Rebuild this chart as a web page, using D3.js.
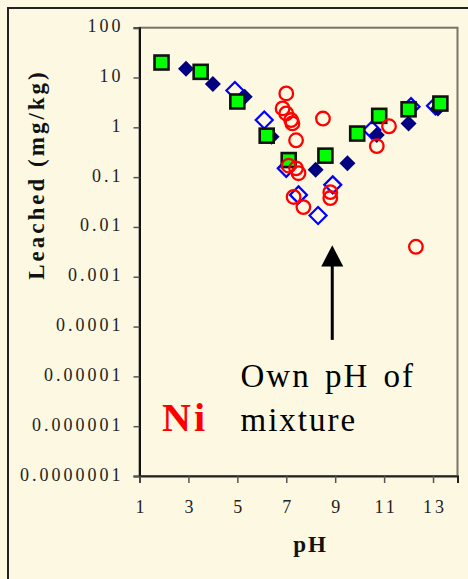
<!DOCTYPE html>
<html><head><meta charset="utf-8">
<script src="https://cdn.jsdelivr.net/npm/d3@7"></script>
<style>html,body{margin:0;padding:0;background:#fdf8e1;} svg{display:block}</style>
</head><body><svg id="c" width="468" height="579"></svg>
<script>
// ---- data (pH, leached mg/kg) ----
const squaresPH  = [1.9, 3.5, 5.0, 6.2, 7.1, 8.6, 9.9, 10.8, 12.0, 13.3];
const squaresVal = [20, 13, 3.3, 0.68, 0.22, 0.27, 0.75, 1.7, 2.3, 3.0];
const navyPH  = [2.9, 4.0, 5.3, 6.4, 8.2, 9.5, 10.7, 12.0, 13.2];
const navyVal = [15, 7.4, 4.1, 0.65, 0.14, 0.19, 0.7, 1.2, 2.4];
const openPH  = [4.9, 6.1, 7.0, 7.5, 8.3, 8.9, 10.5, 12.1, 13.1];
const openVal = [5.5, 1.4, 0.15, 0.044, 0.017, 0.07, 0.88, 2.6, 2.7];
const circlePH  = [7.0, 6.85, 7.0, 7.2, 7.25, 7.4, 8.5, 7.1, 7.4, 7.5, 7.3, 7.7, 8.8, 8.8, 10.7, 11.2, 12.3];
const circleVal = [4.8, 2.4, 1.9, 1.4, 1.2, 0.55, 1.5, 0.17, 0.15, 0.12, 0.04, 0.025, 0.05, 0.038, 0.42, 1.05, 0.004];
const xTicks = [1, 3, 5, 7, 9, 11, 13];
const yTicks = [100, 10, 1, 0.1, 0.01, 0.001, 0.0001, 0.00001, 0.000001, 0.0000001];
const yTickLabels = ["100", "10", "1", "0.1", "0.01", "0.001", "0.0001", "0.00001", "0.000001", "0.0000001"];

const serif = '"Liberation Serif","Times New Roman",serif';
const svg = d3.select("#c");
const L = 139.5, R = 457.5, T = 27.7, B = 476;
const x = d3.scaleLinear().domain([1, 14]).range([L, R]);
const y = d3.scaleLog().domain([1e-7, 100]).range([B, T]);

// outer frame
svg.append("rect").attr("x", 8).attr("y", 8).attr("width", 480).attr("height", 600)
  .attr("fill", "#fdf8e1").attr("stroke", "#222").attr("stroke-width", 2);
// plot frame
svg.append("rect").attr("x", L).attr("y", T).attr("width", R - L).attr("height", B - T)
  .attr("fill", "none").attr("stroke", "#77746a").attr("stroke-width", 2);

// axes
const ls = 3;
const yAx = svg.append("g").attr("transform", `translate(${L},0)`)
  .call(d3.axisLeft(y).tickValues(yTicks).tickSize(6).tickPadding(13)
    .tickFormat((d, i) => yTickLabels[i]));
yAx.selectAll("text").attr("dy", "4").attr("dx", ls)
  .style("font-family", serif).style("font-size", "18px").style("letter-spacing", ls + "px").attr("fill", "#222");
yAx.select(".domain").attr("stroke", "#111").attr("stroke-width", 2);
yAx.selectAll(".tick line").attr("stroke", "#555").attr("stroke-width", 1.5);

const xAx = svg.append("g").attr("transform", `translate(0,${B})`)
  .call(d3.axisBottom(x).tickValues(xTicks).tickSize(7).tickFormat(d3.format("d")));
xAx.selectAll("text").attr("y", 37).attr("dy", 0).attr("dx", ls / 2)
  .style("font-family", serif).style("font-size", "18px").style("letter-spacing", ls + "px").attr("fill", "#222");
xAx.select(".domain").attr("stroke", "#222").attr("stroke-width", 2);
xAx.selectAll(".tick line").attr("stroke", "#555").attr("stroke-width", 1.5);

// axis titles
svg.append("text").attr("x", 310.5).attr("y", 552).attr("text-anchor", "middle")
  .style("font-family", serif).style("font-weight", "bold").style("font-size", "23px")
  .style("letter-spacing", "2px").attr("fill", "#111").text("pH");
svg.append("text").attr("transform", "translate(44,176) rotate(-90)").attr("text-anchor", "middle")
  .attr("dx", 1.5)
  .style("font-family", serif).style("font-weight", "bold").style("font-size", "23px")
  .style("letter-spacing", "3px").attr("fill", "#111").text("Leached (mg/kg)");

// markers
const diamond = h => `M0,${-h}L${h},0L0,${h}L${-h},0Z`;
svg.append("g").selectAll("path").data(d3.range(openPH.length)).join("path")
  .attr("transform", i => `translate(${x(openPH[i])},${y(openVal[i])})`)
  .attr("d", diamond(8.5)).attr("fill", "none").attr("stroke", "#0000ff").attr("stroke-width", 2.2);
svg.append("g").selectAll("path").data(d3.range(navyPH.length)).join("path")
  .attr("transform", i => `translate(${x(navyPH[i])},${y(navyVal[i])})`)
  .attr("d", diamond(8)).attr("fill", "#000080");
svg.append("g").selectAll("rect").data(d3.range(squaresPH.length)).join("rect")
  .attr("x", i => x(squaresPH[i]) - 7).attr("y", i => y(squaresVal[i]) - 7)
  .attr("width", 14).attr("height", 14)
  .attr("fill", "#00ff00").attr("stroke", "#111").attr("stroke-width", 2.6);
svg.append("g").selectAll("circle").data(d3.range(circlePH.length)).join("circle")
  .attr("cx", i => x(circlePH[i])).attr("cy", i => y(circleVal[i])).attr("r", 6.8)
  .attr("fill", "none").attr("stroke", "#ff0000").attr("stroke-width", 2.3);

// annotation: arrow + text
const ax = x(8.88);
svg.append("line").attr("x1", ax).attr("x2", ax).attr("y1", y(5.4e-5)).attr("y2", y(0.0025))
  .attr("stroke", "#000").attr("stroke-width", 3);
const tip = y(0.0043), base = y(0.0016);
svg.append("path").attr("d", `M${ax},${tip}L${ax + 11},${base}L${ax - 11},${base}Z`).attr("fill", "#000");
svg.append("text").attr("x", 240.5).attr("y", 387)
  .style("font-family", serif).style("font-size", "33px").style("letter-spacing", "2px")
  .style("word-spacing", "4px").attr("fill", "#000").text("Own pH of");
svg.append("text").attr("x", 240.5).attr("y", 431)
  .style("font-family", serif).style("font-size", "33px").style("letter-spacing", "2px")
  .attr("fill", "#000").text("mixture");
svg.append("text").attr("x", 162).attr("y", 430.5)
  .style("font-family", serif).style("font-weight", "bold").style("font-size", "40px")
  .style("letter-spacing", "3px").attr("fill", "#ff0000").text("Ni");
</script></body></html>
